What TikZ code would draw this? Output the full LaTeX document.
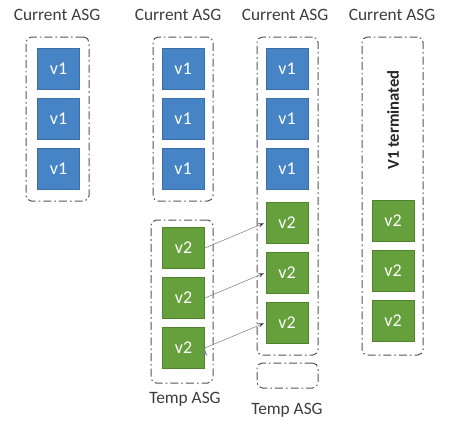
\documentclass[tikz,border=0pt]{standalone}
\usepackage{fontspec}
\setmainfont{Carlito}
\usetikzlibrary{positioning, arrows.meta}
\definecolor{vblue}{RGB}{70,132,198}
\definecolor{vblueline}{RGB}{60,110,165}
\definecolor{vgreen}{RGB}{101,160,60}
\definecolor{vgreenline}{RGB}{80,130,48}
\definecolor{asgline}{RGB}{85,85,85}
\definecolor{labeltext}{RGB}{60,60,60}

\begin{document}
\begin{tikzpicture}[x=0.75pt, y=-0.75pt, >=Stealth, node distance=37.5pt,
      vm/.style={draw, line width=0.5pt, minimum width=31.5pt, minimum height=30.75pt,
        inner sep=0pt, text=white, font=\fontsize{13.5}{15}\selectfont},
      vone/.style={vm, fill=vblue, draw=vblueline},
      vtwo/.style={vm, fill=vgreen, draw=vgreenline},
      asg/.style={draw=asgline, line width=0.75pt, rounded corners=4pt, inner sep=0pt,
        dash pattern=on 6pt off 2.25pt on 1.2pt off 2.25pt},
      caption/.style={text=labeltext, font=\fontsize{13}{15}\selectfont},
      move/.style={->, draw=gray, line width=0.4pt, shorten >=1pt}]
    \useasboundingbox (0,0) rectangle (449,421);

    % group boxes
    \node[asg, minimum width=47.25pt, minimum height=123pt] (grpa) at (57.5,119) {};
    \node[asg, minimum width=45pt, minimum height=123pt] (grpb) at (183,119) {};
    \node[asg, minimum width=46.5pt, minimum height=122.25pt] (tmpb) at (182,301.5) {};
    \node[asg, minimum width=45.75pt, minimum height=238.5pt] (grpc) at (287.5,196) {};
    \node[asg, minimum width=45.75pt, minimum height=18.75pt] (tmpc) at (287.5,375.5) {};
    \node[asg, minimum width=45.75pt, minimum height=238.5pt] (grpd) at (392.5,196) {};

    % captions
    \node[caption] (capa) at (57,15) {Current ASG};
    \node[caption] (capb) at (178,15) {Current ASG};
    \node[caption] (capc) at (285,15) {Current ASG};
    \node[caption] (capd) at (392,15) {Current ASG};
    \node[caption] (captb) at (185,399) {Temp ASG};
    \node[caption] (captc) at (287,410) {Temp ASG};

    % step 1
    \node[vone] (a1) at (58.5,68.5) {v1};
    \node[vone] (a2) [below of=a1] {v1};
    \node[vone] (a3) [below of=a2] {v1};

    % step 2
    \node[vone] (b1) at (183,69) {v1};
    \node[vone] (b2) [below of=b1] {v1};
    \node[vone] (b3) [below of=b2] {v1};
    \node[vtwo] (c1) at (183.5,248) {v2};
    \node[vtwo] (c2) [below of=c1] {v2};
    \node[vtwo] (c3) [below of=c2] {v2};

    % step 3
    \node[vone] (d1) at (287,69) {v1};
    \node[vone] (d2) [below of=d1] {v1};
    \node[vone] (d3) [below of=d2] {v1};
    \node[vtwo] (e1) at (287,222.5) {v2};
    \node[vtwo] (e2) [below of=e1] {v2};
    \node[vtwo] (e3) [below of=e2] {v2};

    % step 4
    \node[rotate=90, font=\fontsize{12.5}{14}\selectfont\bfseries, text=black!85] (term) at (393,120) {V1 terminated};
    \node[vtwo] (f1) at (393,220.5) {v2};
    \node[vtwo] (f2) [below of=f1] {v2};
    \node[vtwo] (f3) [below of=f2] {v2};

    \path[move] (c1.east) edge (e1.west)
                (c2.east) edge (e2.west)
                (c3.east) edge (e3.west);
  \end{tikzpicture}
\end{document}
